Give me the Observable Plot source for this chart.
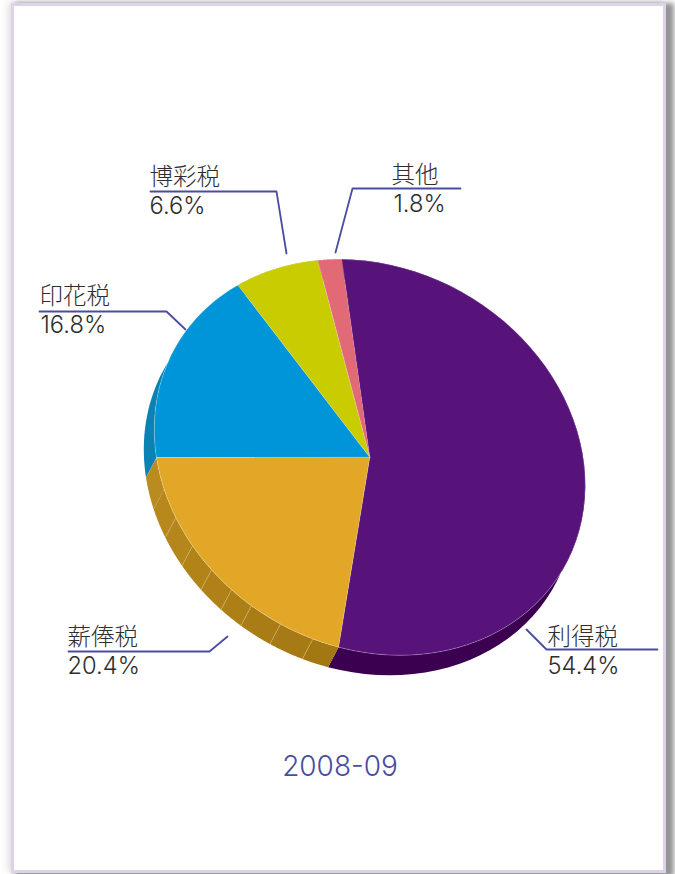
<!DOCTYPE html>
<html>
<head>
<meta charset="utf-8">
<script src="https://cdn.jsdelivr.net/npm/d3@7"></script>
<script src="https://cdn.jsdelivr.net/npm/@observablehq/plot@0.6"></script>
<style>
  html, body { margin: 0; padding: 0; background: #fff; overflow: hidden; width: 675px; height: 874px; }
  #frame { position: absolute; left: 11px; top: 3px; width: 649px; height: 864px; background: #fff;
    border: 3px solid #ddd2e8; box-shadow: 6px 2px 5px 2px rgba(60,60,60,.55), -4px -1px 6px rgba(120,110,130,.18); }
  #chart { position: absolute; left: 0; top: 0; }
  #chart svg { background: transparent !important; }
</style>
</head>
<body>
<div id="frame"></div>
<div id="chart"></div>
<script>
// Data
const categories = ["利得税", "薪俸税", "印花税", "博彩税", "其他"];
const shares = [54.4, 20.4, 16.8, 6.6, 1.8];
const periodLabel = "2008-09";

// Styles
const topColors = ["#58137b", "#e2a727", "#0095d8", "#c8cc00", "#e26a76"];
const wallColors = ["#3c0050", "#b0811a", "#0a82b4", "#a0a400", "#b0505c"];
const accent = "#4a4c9e";
const ink = "#2e2e2e";

// Layout of the tilted disc (the chart area is in page pixels)
const centre = [369.3, 456.8];
const axisU = [215.5, 28];
const axisV = [0, 196];
const wallOffset = [-10.5, 20];
const startDeg = -97.5;
// Shading steps on the gold wall, as fractions of its slice
const goldFacetFractions = [0, 0.125, 0.24, 0.36, 0.47, 0.57, 0.66, 0.78, 0.905, 1];

const rim = (deg, off = [0, 0]) => {
  const t = deg * Math.PI / 180;
  return {
    x: centre[0] + axisU[0] * Math.cos(t) + axisV[0] * Math.sin(t) + off[0],
    y: centre[1] + axisU[1] * Math.cos(t) + axisV[1] * Math.sin(t) + off[1]
  };
};
const arcPts = (a, b, off) => d3.range(0, 61).map(i => rim(a + (b - a) * i / 60, off));

const total = d3.sum(shares);
let acc = startDeg;
const slices = shares.map((v, i) => {
  const a = acc; acc += v / total * 360;
  return { name: categories[i], a, b: acc, top: topColors[i], wall: wallColors[i] };
});

const topShape = s => [{ x: centre[0], y: centre[1] }, ...arcPts(s.a, s.b)];
const wallShape = (a, b) => [...arcPts(a, b), ...arcPts(a, b, wallOffset).reverse()];

const gold = slices[1];
const goldAngles = goldFacetFractions.map(f => gold.b - (gold.b - gold.a) * f);
const goldShade = d3.scaleLinear().domain([0, goldFacetFractions.length - 2]).range(["#ba8b1e", "#a37712"]);

// Label placement
const labelLayout = {
  "利得税": { x: 547, x2: 547, y1: 644, y2: 673, leader: [[526, 629], [546, 649], [657, 649]] },
  "薪俸税": { x: 67, x2: 67, y1: 644, y2: 673, leader: [[227, 636], [209, 651], [68, 651]] },
  "印花税": { x: 39, x2: 40, y1: 303, y2: 332, leader: [[185, 329], [166, 311], [39, 311]] },
  "博彩税": { x: 149, x2: 149, y1: 184, y2: 213, leader: [[286, 253], [276, 191], [150, 191]] },
  "其他":   { x: 391, x2: 393, y1: 182, y2: 211, leader: [[335, 252], [352, 188], [460, 188]] }
};
const labels = categories.map((c, i) => ({ name: c, pct: shares[i].toFixed(1) + "%", ...labelLayout[c] }));
const leaders = labels.flatMap(l => l.leader.map(([x, y]) => ({ name: l.name, x, y })));

const fontFamily = "'Noto Sans CJK JP', 'Noto Sans CJK SC', sans-serif";
const latinFamily = "Inter, 'Noto Sans', sans-serif";
const poly = (pts, o) => Plot.line(pts, { x: "x", y: "y", curve: "linear", ...o });

const chart = Plot.plot({
  width: 675, height: 874,
  margin: 0,
  x: { domain: [0, 675], range: [0, 675], axis: null },
  y: { domain: [0, 874], range: [0, 874], axis: null },
  style: { background: "transparent", fontFamily },
  marks: [
    // walls
    ...slices.filter(s => s !== gold).map(s => poly(wallShape(s.a, s.b), { fill: s.wall, stroke: "none" })),
    ...d3.pairs(goldAngles).map(([a, b], i) => poly(wallShape(a, b), { fill: goldShade(i), stroke: "none" })),
    ...goldAngles.slice(2, -1).map(a => poly([rim(a), rim(a, wallOffset)], { stroke: "#d4b568", strokeWidth: 0.6 })),
    // top surface
    ...slices.map(s => poly(topShape(s), { fill: s.top, stroke: "#ffffff", strokeOpacity: 0.35, strokeWidth: 0.7 })),
    // leader lines
    Plot.line(leaders, { x: "x", y: "y", z: "name", stroke: accent, strokeWidth: 1.8, curve: "linear" }),
    // labels
    Plot.text(labels, { x: "x", y: "y1", text: "name", textAnchor: "start", lineAnchor: "bottom", fontSize: 23.5, fontWeight: 300, fill: ink }),
    Plot.text(labels, { x: "x2", y: "y2", text: "pct", textAnchor: "start", lineAnchor: "bottom", fontSize: 23.7, fontWeight: 300, fontFamily: latinFamily, fill: ink }),
    Plot.text([periodLabel], { x: () => 339.5, y: () => 775, text: d => d, textAnchor: "middle", lineAnchor: "bottom", fontSize: 28, fontWeight: 300, fontFamily: latinFamily, fill: accent })
  ]
});
document.getElementById("chart").appendChild(chart);
</script>
</body>
</html>
